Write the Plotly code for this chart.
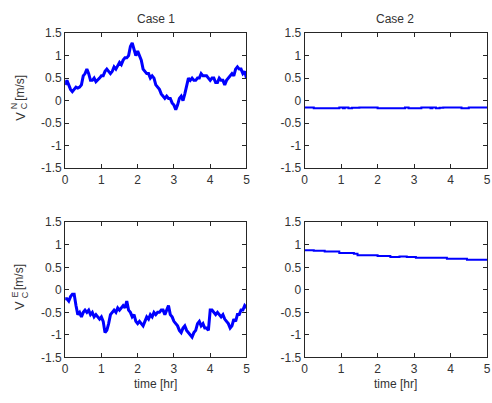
import plotly.graph_objects as go

# ---- data ----
t_noisy = [round(i * 0.05, 2) for i in range(101)]

vn_case1 = [0.35, 0.45, 0.35, 0.25, 0.2, 0.25, 0.3, 0.28, 0.3, 0.35,
            0.55, 0.6, 0.7, 0.6, 0.45, 0.45, 0.5, 0.42, 0.45, 0.5,
            0.55, 0.55, 0.65, 0.7, 0.65, 0.6, 0.65, 0.75, 0.7, 0.78,
            0.85, 0.8, 0.9, 0.95, 0.95, 1.0, 1.2, 1.28, 1.15, 1.0,
            1.1, 1.0, 0.9, 0.7, 0.65, 0.6, 0.6, 0.5, 0.55, 0.5,
            0.35, 0.3, 0.25, 0.15, 0.1, 0.05, 0.1, 0.05, 0.05, -0.05,
            -0.1, -0.2, -0.1, 0.05, 0.1, 0.0, 0.15, 0.3, 0.5, 0.45,
            0.5, 0.45, 0.45, 0.5, 0.5, 0.6, 0.55, 0.55, 0.55, 0.5,
            0.45, 0.5, 0.5, 0.4, 0.4, 0.5, 0.45, 0.45, 0.35, 0.45,
            0.5, 0.55, 0.6, 0.55, 0.7, 0.75, 0.7, 0.7, 0.6, 0.65,
            0.5]

ve_case1 = [-0.2, -0.2, -0.25, -0.15, -0.1, -0.1, -0.35, -0.55, -0.5, -0.6,
            -0.5, -0.45, -0.5, -0.45, -0.55, -0.5, -0.6, -0.55, -0.6, -0.65,
            -0.6, -0.7, -0.95, -0.9, -0.75, -0.55, -0.5, -0.45, -0.5, -0.4,
            -0.45, -0.4, -0.35, -0.4, -0.25, -0.45, -0.5, -0.6, -0.55, -0.7,
            -0.75, -0.7, -0.75, -0.8, -0.7, -0.6, -0.65, -0.55, -0.6, -0.5,
            -0.55, -0.5, -0.5, -0.45, -0.45, -0.55, -0.45, -0.35, -0.55, -0.6,
            -0.7, -0.75, -0.8, -0.9, -0.95, -0.85, -0.8, -0.9, -0.95, -1.0,
            -1.05, -0.95, -0.9, -0.75, -0.7, -0.8, -0.75, -0.85, -0.85, -0.9,
            -0.45, -0.45, -0.5, -0.55, -0.5, -0.55, -0.6, -0.55, -0.65, -0.7,
            -0.75, -0.85, -0.8, -0.65, -0.7, -0.55, -0.55, -0.45, -0.45, -0.35,
            -0.4]

t_vn_case2 = [0.0, 0.25, 0.95, 1.05, 1.1, 1.2, 1.3, 1.5, 2.0, 2.75, 2.85, 3.2, 3.45, 3.5, 3.6, 3.7, 3.8, 4.3, 4.5, 5.0]
vn_case2 = [-0.15, -0.17, -0.15, -0.17, -0.15, -0.17, -0.16, -0.15, -0.17, -0.15, -0.17, -0.15, -0.17, -0.15, -0.17, -0.16, -0.15, -0.17, -0.15, -0.15]

t_ve_case2 = [0.0, 0.25, 0.55, 0.95, 1.35, 1.45, 2.0, 2.35, 2.6, 2.8, 3.05, 3.9, 4.45, 5.0]
ve_case2 = [0.88, 0.87, 0.85, 0.82, 0.8, 0.77, 0.75, 0.73, 0.74, 0.73, 0.71, 0.69, 0.67, 0.67]

titles = ["Case 1", "Case 2"]
x_title = "time [hr]"
y_sup = ["N", "E"]
x_ticks = [0, 1, 2, 3, 4, 5]
y_ticks = [-1.5, -1, -0.5, 0, 0.5, 1, 1.5]
y_tick_text = ["-1.5", "-1", "-0.5", "0", "0.5", "1", "1.5"]

# ---- figure ----
BLUE = "rgb(0,0,255)"
FONT = "Liberation Sans, Arial, sans-serif"
TXT = "#333333"
AX = "#262626"
FS = 12

fig = go.Figure()
fig.add_trace(go.Scatter(x=t_noisy, y=vn_case1, mode="lines", line=dict(color=BLUE, width=3), xaxis="x", yaxis="y"))
fig.add_trace(go.Scatter(x=t_vn_case2, y=vn_case2, mode="lines", line=dict(color=BLUE, width=2, shape="hv"), xaxis="x2", yaxis="y2"))
fig.add_trace(go.Scatter(x=t_noisy, y=ve_case1, mode="lines", line=dict(color=BLUE, width=3), xaxis="x3", yaxis="y3"))
fig.add_trace(go.Scatter(x=t_ve_case2, y=ve_case2, mode="lines", line=dict(color=BLUE, width=2, shape="hv"), xaxis="x4", yaxis="y4"))

W, H = 492, 403
xl = [63 / W, 247 / W]
xr = [306 / W, 491 / W]
yt = [1 - 167 / H, 1 - 27 / H]
yb = [1 - 363 / H, 1 - 223 / H]

def xaxis(domain, anchor):
    return dict(domain=domain, anchor=anchor, range=[0, 5], tickvals=x_ticks,
                ticks="inside", ticklen=4, tickcolor=AX, showline=True, linecolor=AX,
                linewidth=1, mirror="allticks", showgrid=False, zeroline=False,
                tickfont=dict(family=FONT, size=FS, color=TXT))

def yaxis(domain, anchor):
    return dict(domain=domain, anchor=anchor, range=[-1.5, 1.5], tickvals=y_ticks,
                ticktext=y_tick_text, ticks="inside", ticklen=4, tickcolor=AX,
                showline=True, linecolor=AX, linewidth=1, mirror="allticks",
                showgrid=False, zeroline=False,
                tickfont=dict(family=FONT, size=FS, color=TXT))

def px(xp, yp):
    return xp / W, 1 - yp / H

ann = []
def add_text(text, xp, yp, size=FS, angle=0):
    x, y = px(xp, yp)
    ann.append(dict(text=text, x=x, y=y, xref="paper", yref="paper", showarrow=False,
                    textangle=angle, xanchor="center", yanchor="middle",
                    font=dict(family=FONT, size=size, color=TXT)))

# titles
add_text(titles[0], 155, 12)
add_text(titles[1], 398, 12)
# x titles
add_text(x_title, 155, 391)
add_text(x_title, 398, 391)
# y titles (stacked super/subscript like the original)
for row, dy in enumerate([0, 196]):
    add_text("V", 17, 113 + dy, size=13, angle=-90)
    add_text(y_sup[row], 12, 102 + dy, size=9, angle=-90)
    add_text("C", 22, 102 + dy, size=9, angle=-90)
    add_text("[m/s]", 17, 84 + dy, size=12, angle=-90)

fig.update_layout(
    width=W, height=H, margin=dict(l=0, r=0, t=0, b=0),
    paper_bgcolor="white", plot_bgcolor="white", showlegend=False,
    xaxis=xaxis(xl, "y"), yaxis=yaxis(yt, "x"),
    xaxis2=xaxis(xr, "y2"), yaxis2=yaxis(yt, "x2"),
    xaxis3=xaxis(xl, "y3"), yaxis3=yaxis(yb, "x3"),
    xaxis4=xaxis(xr, "y4"), yaxis4=yaxis(yb, "x4"),
    annotations=ann,
)

fig.write_html("out.html")
